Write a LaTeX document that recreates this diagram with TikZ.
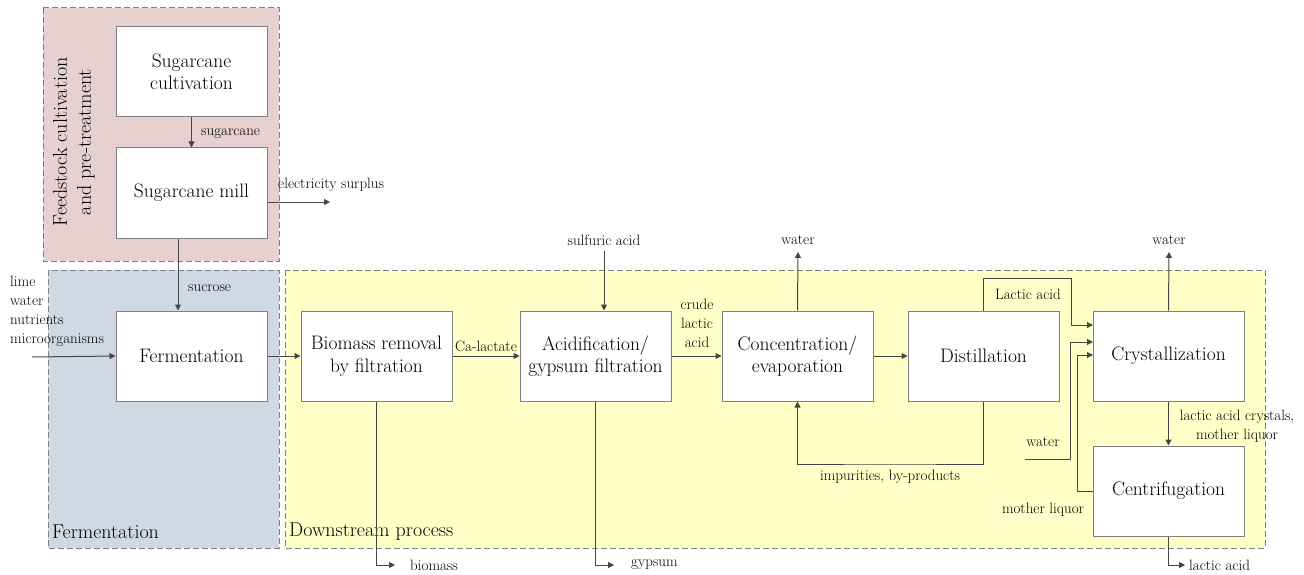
\documentclass[tikz,border=0pt]{standalone}
\usetikzlibrary{arrows.meta}
\definecolor{pinkreg}{RGB}{230,208,208}
\definecolor{bluereg}{RGB}{208,216,228}
\definecolor{yelreg}{RGB}{255,255,200}
\definecolor{regborder}{RGB}{128,128,128}
\definecolor{boxborder}{RGB}{128,128,128}
\definecolor{flowcol}{RGB}{70,70,70}
\begin{document}
\begin{tikzpicture}[x=1pt,y=-1pt,
  proc/.style={draw=boxborder, fill=white, line width=1pt, minimum width=151pt, minimum height=90pt, inner sep=0pt, align=center, font=\fontsize{19.5}{22.5}\selectfont},
  region/.style={draw=regborder, dashed, dash pattern=on 6pt off 3pt, line width=1pt},
  flow/.style={draw=flowcol, line width=1pt, -{Triangle[length=6pt,width=6pt]}},
  lbl/.style={font=\fontsize{15}{19}\selectfont, inner sep=0pt, text=black},
  reglbl/.style={font=\fontsize{20}{24}\selectfont, inner sep=0pt}
]
\useasboundingbox (0,0) rectangle (1304,575);
% regions
\draw[region, fill=pinkreg] (43,8) rectangle (279,261);
\draw[region, fill=bluereg] (48,270) rectangle (279,548);
\draw[region, fill=yelreg] (285,270) rectangle (1265,548);
\node[reglbl, rotate=90, align=center] (rfeed) at (74,142) {Feedstock cultivation\\and pre-treatment};
\node[reglbl, anchor=west] (rferm) at (52,532) {Fermentation};
\node[reglbl, anchor=west] (rdown) at (289,532) {Downstream process};
% boxes
\node[proc] (cult) at (191.5,72) {Sugarcane\\cultivation};
\node[proc] (mill) at (191.5,193) {Sugarcane mill};
\node[proc] (ferm) at (191.5,356) {Fermentation};
\node[proc] (bio) at (376.5,356) {Biomass removal\\by filtration};
\node[proc] (acid) at (595.5,356) {Acidification/\\gypsum filtration};
\node[proc] (conc) at (797.5,356) {Concentration/\\evaporation};
\node[proc] (dist) at (983.5,356) {Distillation};
\node[proc] (cryst) at (1168.5,356) {Crystallization};
\node[proc] (cent) at (1168.5,491) {Centrifugation};
% coordinates
\coordinate (elec) at (330,202);
\coordinate (inp) at (32,357);
\coordinate (c1) at (1093,325);
\coordinate (c2) at (1093,342);
\coordinate (c3) at (1093,355);
\coordinate (win) at (1025,459);
\coordinate (bioend) at (395,565);
\coordinate (gypend) at (614,565);
\coordinate (laend) at (1185,565);
% labels
\node[lbl, anchor=west] (lsug) at (201,134) {sugarcane};
\node[lbl, anchor=west] (lelec) at (278,185) {electricity surplus};
\node[lbl, anchor=west] (lsuc) at (188,288) {sucrose};
\node[lbl, anchor=north west, align=left] (linp) at (10,276) {lime\\water\\nutrients\\microorganisms};
\node[lbl] (lca) at (486,346) {Ca-lactate};
\node[lbl] (lsa) at (604,240) {sulfuric acid};
\node[lbl, align=center] (lcrude) at (697,323) {crude\\lactic\\acid};
\node[lbl] (lw1) at (798,240) {water};
\node[lbl] (limp) at (890,477) {impurities, by-products};
\node[lbl] (lla) at (1028,294) {Lactic acid};
\node[lbl] (lw3) at (1043,442) {water};
\node[lbl] (lml) at (1043,510) {mother liquor};
\node[lbl] (lw2) at (1169,240) {water};
\node[lbl, align=center] (lcry) at (1237,426) {lactic acid crystals,\\mother liquor};
\node[lbl, anchor=west] (lbio) at (410,565) {biomass};
\node[lbl, anchor=west] (lgyp) at (631,565) {gypsum};
\node[lbl, anchor=west] (llac) at (1189,565) {lactic acid};
% flows
\draw[flow] (cult) -- (mill);
\draw[flow] ([yshift=-9pt]mill.east) -- (elec);
\draw[flow] ([xshift=-13.5pt]mill.south) -- ([xshift=-13.5pt]ferm.north);
\draw[flow] (inp) -- (ferm.west);
\draw[flow] (ferm) -- (bio);
\draw[flow] (bio) -- (acid);
\draw[flow] ([yshift=-5pt]lsa.south) -- (lsa.south |- acid.north);
\draw[flow] (acid) -- (conc);
\draw[flow] (conc.north) -- ([yshift=-7pt]lw1.south);
\draw[flow] (conc) -- (dist);
\draw[flow] (dist.south) |- (890,464) -| (conc.south);
\draw[flow] (dist.north) |- (1071,278) |- (c1);
\draw[flow] (win) -| (1070,342) -- (c2);
\draw[flow] (cent.west |- 0,491) -| (1077,355) -- (c3);
\draw[flow] (cryst.north) -- ([yshift=-7pt]lw2.south);
\draw[flow] (cryst) -- (cent);
\draw[flow] (cent.south) |- (laend);
\draw[flow] (bio.south) |- (bioend);
\draw[flow] (acid.south) |- (gypend);
\end{tikzpicture}
\end{document}
